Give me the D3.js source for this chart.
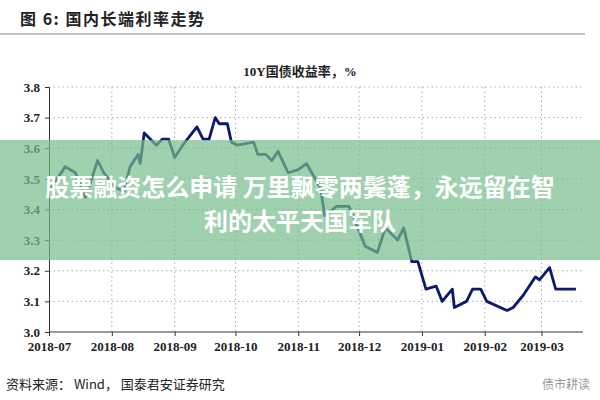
<!DOCTYPE html>
<html><head><meta charset="utf-8">
<script src="https://cdn.jsdelivr.net/npm/d3@7"></script>
<style>body{margin:0;background:#fff}</style>
</head><body><div id="chart"></div>
<script>
// 10Y yield
const dates = ['2018-07-02','2018-07-09','2018-07-14','2018-07-19','2018-07-25','2018-07-28','2018-08-03','2018-08-07','2018-08-10','2018-08-14','2018-08-15','2018-08-17','2018-08-23','2018-08-26','2018-08-29','2018-09-01','2018-09-05','2018-09-12','2018-09-15','2018-09-18','2018-09-21','2018-09-23','2018-09-27','2018-09-29','2018-10-02','2018-10-10','2018-10-12','2018-10-16','2018-10-19','2018-10-22','2018-10-27','2018-11-01','2018-11-05','2018-11-12','2018-11-14','2018-11-20','2018-11-26','2018-11-28','2018-12-04','2018-12-10','2018-12-14','2018-12-20','2018-12-23','2018-12-27','2018-12-30','2019-01-03','2019-01-08','2019-01-11','2019-01-16','2019-01-17','2019-01-23','2019-01-26','2019-01-30','2019-02-02','2019-02-12','2019-02-15','2019-02-20','2019-02-26','2019-02-28','2019-03-05','2019-03-08','2019-03-14','2019-03-18'];
const yields = [3.47,3.54,3.52,3.44,3.56,3.52,3.47,3.46,3.54,3.58,3.55,3.65,3.61,3.63,3.63,3.57,3.61,3.67,3.63,3.63,3.70,3.68,3.68,3.62,3.61,3.62,3.58,3.58,3.56,3.59,3.52,3.53,3.55,3.47,3.38,3.41,3.41,3.38,3.28,3.26,3.34,3.30,3.34,3.23,3.23,3.14,3.15,3.10,3.14,3.08,3.10,3.14,3.14,3.10,3.07,3.08,3.12,3.18,3.17,3.21,3.14,3.14,3.14];
const monthTicks = ['2018-07','2018-08','2018-09','2018-10','2018-11','2018-12','2019-01','2019-02','2019-03'];
const yTicks = [3.0,3.1,3.2,3.3,3.4,3.5,3.6,3.7,3.8];

const W = 600, H = 400;
const svg = d3.select('#chart').append('svg').attr('width', W).attr('height', H);
const parse = d3.timeParse('%Y-%m-%d');

const x = d3.scaleTime()
    .domain([parse('2018-07-01'), parse('2019-03-20')])
    .range([49, 580]);
const y = d3.scaleLinear().domain([3.0, 3.8]).range([332, 87]);

// header
svg.append('text').text('图 6:  国内长端利率走势')
    .attr('x', 20).attr('y', 25)
    .style('font-family', 'Noto Sans CJK SC').style('font-weight', 'bold')
    .style('font-size', '16px').style('letter-spacing', '1.5px').attr('fill', '#222');
svg.append('line').attr('x1', 0).attr('x2', 585).attr('y1', 34).attr('y2', 34)
    .attr('stroke', '#888').attr('stroke-width', 1.2);

svg.append('text').text('10Y国债收益率，%')
    .attr('x', 300).attr('y', 76).attr('text-anchor', 'middle')
    .style('font-family', 'Liberation Serif, Noto Sans CJK SC').style('font-weight', 'bold')
    .style('font-size', '13px').attr('fill', '#222');

// grid
svg.append('g').selectAll('line').data(yTicks.slice(1)).enter().append('line')
    .attr('x1', 49).attr('x2', 583)
    .attr('y1', d => y(d)).attr('y2', d => y(d))
    .attr('stroke', '#aaa').attr('stroke-dasharray', '1.5,3');
svg.append('g').selectAll('line').data(monthTicks.slice(1)).enter().append('line')
    .attr('x1', d => x(parse(d + '-01'))).attr('x2', d => x(parse(d + '-01')))
    .attr('y1', 87).attr('y2', 332)
    .attr('stroke', '#aaa').attr('stroke-dasharray', '1.5,3');

// axes
const yAxis = svg.append('g').attr('transform', 'translate(49,0)')
    .call(d3.axisLeft(y).tickValues(yTicks).tickFormat(d3.format('.1f')).tickSize(4));
const xAxis = svg.append('g').attr('transform', 'translate(0,332)')
    .call(d3.axisBottom(x).tickValues(monthTicks.map(m => parse(m + '-01')))
        .tickFormat(d3.timeFormat('%Y-%m')).tickSize(4));
[yAxis, xAxis].forEach(g => {
    g.select('.domain').attr('stroke', '#333');
    g.selectAll('.tick line').attr('stroke', '#333');
    g.selectAll('text').style('font-family', 'Liberation Serif').style('font-weight', 'bold')
        .style('font-size', '13px').attr('fill', '#222');
});
yAxis.selectAll('text').attr('x', -9);
xAxis.selectAll('text').attr('y', 10);
xAxis.select('.domain').attr('d', 'M49,0H583');

// line
const line = d3.line().x((d, i) => x(parse(dates[i]))).y(d => y(d));
svg.append('path').datum(yields)
    .attr('d', line).attr('fill', 'none')
    .attr('stroke', '#0d1a6b').attr('stroke-width', 2.8).attr('stroke-linejoin', 'round');

// overlay band
svg.append('rect').attr('x', 0).attr('y', 140).attr('width', W).attr('height', 120)
    .attr('fill', 'rgb(120,190,140)').attr('opacity', 0.7);
const bandText = ['股票融资怎么申请 万里飘零两鬓蓬，永远留在智', '利的太平天国军队'];
svg.append('g').selectAll('text').data(bandText).enter().append('text')
    .text(d => d).attr('x', 300).attr('y', (d, i) => 196 + i * 34)
    .attr('text-anchor', 'middle')
    .style('font-family', 'Noto Sans CJK SC').style('font-weight', 'bold')
    .style('font-size', '24px').attr('fill', '#fff');

// footer
svg.append('text').text('资料来源：  Wind， 国泰君安证券研究')
    .attr('x', 6).attr('y', 389)
    .style('font-family', 'Noto Sans CJK SC').style('font-size', '13px').attr('fill', '#222');
svg.append('text').text('债市耕读')
    .attr('x', 590).attr('y', 389).attr('text-anchor', 'end')
    .style('font-family', 'Noto Sans CJK SC').style('font-size', '12px').attr('fill', '#999');
</script></body></html>
